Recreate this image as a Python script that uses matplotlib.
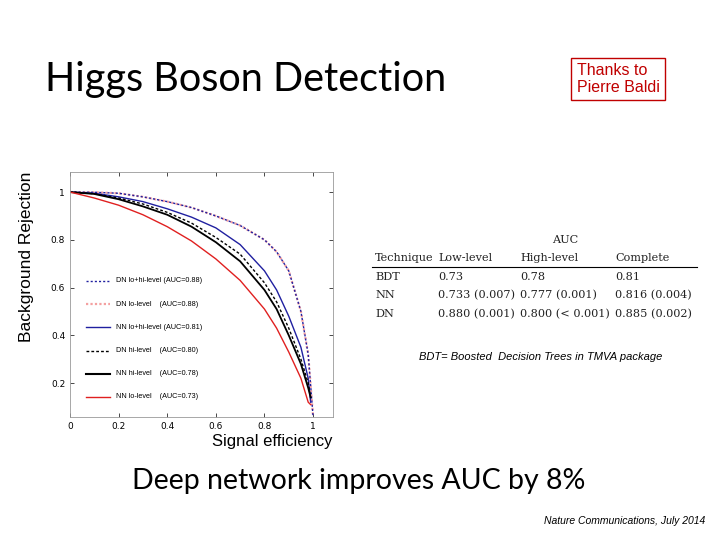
import matplotlib.pyplot as plt

# ROC-style curves (signal efficiency -> background rejection)
eff = [0, 0.1, 0.2, 0.3, 0.4, 0.5, 0.6, 0.7, 0.8, 0.85, 0.9, 0.95, 0.98, 1.0]
dn_lohi = [1, 0.999, 0.995, 0.98, 0.96, 0.935, 0.9, 0.86, 0.8, 0.75, 0.67, 0.5, 0.32, 0.06]
dn_lo = [1, 0.999, 0.995, 0.98, 0.96, 0.935, 0.9, 0.86, 0.8, 0.75, 0.67, 0.5, 0.32, 0.06]
eff_b = [0, 0.1, 0.2, 0.3, 0.4, 0.5, 0.6, 0.7, 0.8, 0.85, 0.9, 0.95, 0.98, 0.99]
nn_lohi = [1, 0.995, 0.98, 0.96, 0.93, 0.895, 0.85, 0.78, 0.67, 0.59, 0.48, 0.35, 0.22, 0.12]
dn_hi = [1, 0.993, 0.975, 0.95, 0.915, 0.87, 0.81, 0.74, 0.62, 0.54, 0.43, 0.3, 0.2, 0.14]
nn_hi = [1, 0.992, 0.97, 0.94, 0.905, 0.855, 0.79, 0.71, 0.59, 0.51, 0.40, 0.28, 0.18, 0.14]
nn_lo = [1, 0.975, 0.945, 0.905, 0.855, 0.795, 0.72, 0.63, 0.51, 0.43, 0.33, 0.22, 0.12, 0.11]

labels = ['DN lo+hi-level (AUC=0.88)', 'DN lo-level    (AUC=0.88)',
          'NN lo+hi-level (AUC=0.81)', 'DN hi-level    (AUC=0.80)',
          'NN hi-level    (AUC=0.78)', 'NN lo-level    (AUC=0.73)']

fig = plt.figure(figsize=(7.2, 5.4), dpi=100)
W, H = 720, 540

fig.text(45/W, 1 - 80/H, 'Higgs Boson Detection', fontsize=28.5, family='Lato', va='center')
fig.text(577/W, 1 - 79/H, 'Thanks to\nPierre Baldi', fontsize=11.5, color='#c00000',
         family='Liberation Sans', ha='left', va='center', linespacing=1.15,
         bbox=dict(boxstyle='square,pad=0.35', fc='white', ec='#c00000', lw=1))

ax = fig.add_axes([70/W, 1 - 417/H, 263/W, 245/H])
ax.plot(eff, dn_lo, color='#f4a0a0', ls=(0, (1, 1)), lw=1.6)
ax.plot(eff, dn_lohi, color='#2020a0', ls=(0, (1.5, 1.5)), lw=1.0)
ax.plot(eff_b, nn_lohi, color='#2020a0', lw=1.0)
ax.plot(eff_b, dn_hi, color='black', ls=(0, (2, 1.5)), lw=1.0)
ax.plot(eff_b, nn_hi, color='black', lw=1.3)
ax.plot(eff_b, nn_lo, color='#e02020', lw=1.0)
ax.set_xlim(0, 1.082)
ax.set_ylim(0.058, 1.084)
ax.set_xticks([0, 0.2, 0.4, 0.6, 0.8, 1])
ax.set_xticklabels(['0', '0.2', '0.4', '0.6', '0.8', '1'])
ax.set_yticks([0.2, 0.4, 0.6, 0.8, 1])
ax.set_yticklabels(['0.2', '0.4', '0.6', '0.8', '1'])
ax.tick_params(labelsize=6.5, direction='in', length=3, width=0.5, top=True, right=True)
for s in ax.spines.values():
    s.set_color('#999999')
    s.set_linewidth(0.6)
ax.set_xlabel('Signal efficiency', fontsize=12, family='Liberation Sans', loc='right', labelpad=2)
ax.set_ylabel('Background Rejection', fontsize=12.5, family='Liberation Sans', loc='top', labelpad=12)

# legend drawn as sample lines plus labels
styles = [dict(color='#2020a0', ls=(0, (1.5, 1.5)), lw=1.0),
          dict(color='#f4a0a0', ls=(0, (1, 1)), lw=1.6),
          dict(color='#2020a0', lw=1.0),
          dict(color='black', ls=(0, (2, 1.5)), lw=1.0),
          dict(color='black', lw=1.5),
          dict(color='#e02020', lw=1.0)]
for i, (lab, st) in enumerate(zip(labels, styles)):
    y = 1 - (281 + i * 23.2) / H
    fig.add_artist(plt.Line2D([86/W, 110/W], [y, y], **st))
    fig.text(116/W, y, lab, fontsize=5.2, va='center', family='Liberation Sans')

# AUC table
tf = dict(family='DejaVu Serif', fontsize=8.1, va='center', color='#222222')
fig.text(565/W, 1 - 240/H, 'AUC', ha='center', **tf)
cols = [375, 438, 520, 615]
header = ['Technique', 'Low-level', 'High-level', 'Complete']
rows = [['BDT', '0.73', '0.78', '0.81'],
        ['NN', '0.733 (0.007)', '0.777 (0.001)', '0.816 (0.004)'],
        ['DN', '0.880 (0.001)', '0.800 (< 0.001)', '0.885 (0.002)']]
for x, t in zip(cols, header):
    fig.text(x/W, 1 - 258/H, t, **tf)
fig.add_artist(plt.Line2D([372/W, 697/W], [1 - 267/H, 1 - 267/H], color='black', lw=0.8))
for r, row in enumerate(rows):
    for x, t in zip(cols, row):
        fig.text(x/W, 1 - (277 + r * 18.5)/H, t, **tf)

fig.text(541/W, 1 - 357/H, 'BDT= Boosted  Decision Trees in TMVA package', fontsize=8,
         style='italic', family='Liberation Sans', ha='center', va='center')
fig.text(132/W, 1 - 481/H, 'Deep network improves AUC by 8%', fontsize=20.5, family='Lato', va='center')
fig.text(705/W, 1 - 521/H, 'Nature Communications, July 2014', fontsize=7.5, style='italic',
         family='Liberation Sans', ha='right', va='center')

fig.savefig('out.png', dpi=100)
